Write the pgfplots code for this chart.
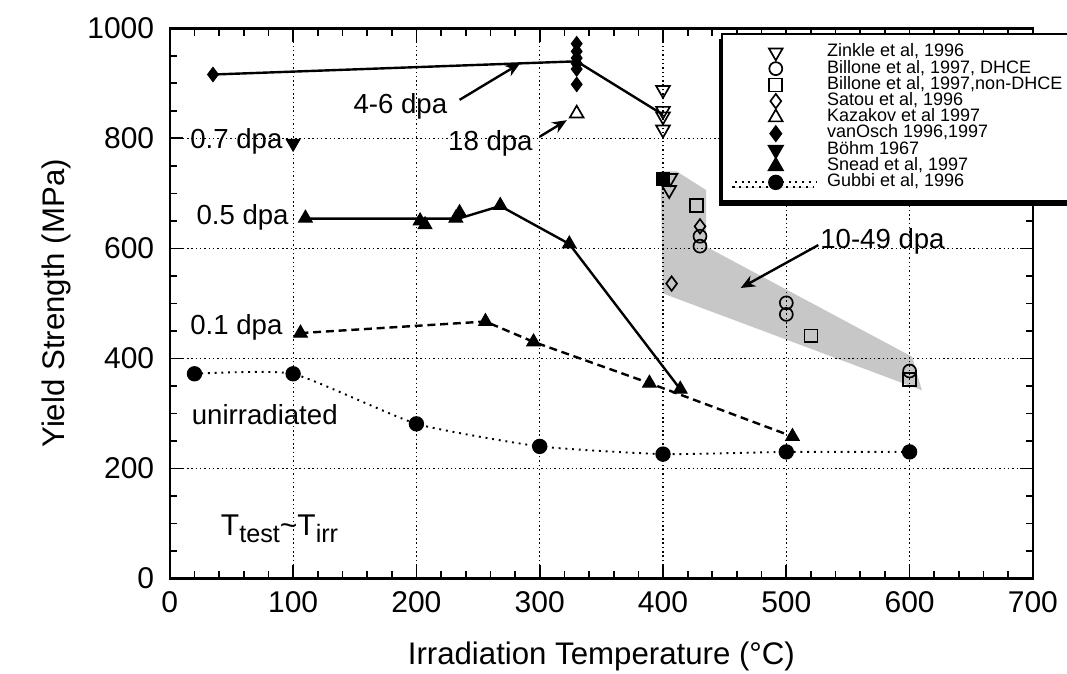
\documentclass[border=0pt]{standalone}
\usepackage{fontspec}
\setmainfont{Liberation Sans}
\setsansfont{Liberation Sans}
\usepackage{pgfplots}
\pgfplotsset{compat=1.18}
\usetikzlibrary{arrows.meta, shadows}

\pgfplotsset{
  legend image code/.code={\draw[mark repeat=2,mark phase=2,#1]
    plot coordinates {(0pt,0pt) (17pt,0pt) (34pt,0pt)};},
}

\begin{document}
\begin{tikzpicture}
\useasboundingbox (-70.75pt,-39.5pt) rectangle (373.8pt,241pt);
\begin{axis}[
  scale only axis, width=359.6pt, height=229.2pt,
  xmin=0, xmax=700, ymin=0, ymax=1000,
  xtick={0,100,...,700}, ytick={0,200,...,1000},
  minor x tick num=4, minor y tick num=3,
  tick align=inside, tick pos=both,
  major tick length=5.5pt, minor tick length=3pt,
  every tick/.style={black, line width=0.7pt},
  axis line style={line width=1pt},
  grid=major,
  grid style={black, line width=0.45pt, dash pattern=on 0.6pt off 1.2pt},
  /pgf/number format/assume math mode=true,
  /pgf/number format/1000 sep={},
  tick label style={font=\fontsize{12.5}{14}\selectfont},
  yticklabel style={xshift=-3pt},
  xticklabel style={yshift=-2pt},
  xlabel={Irradiation Temperature (°C)},
  ylabel={Yield Strength (MPa)},
  label style={font=\fontsize{13}{15}\selectfont},
  xlabel style={yshift=-5pt},
  legend cell align=left,
  legend style={at={(rel axis cs:0.6387,0.9915)}, anchor=north west,
    draw=black, line width=0.8pt, fill=white,
    font=\fontsize{7.5}{7.5}\selectfont,
    inner xsep=5pt, inner ysep=4.3pt, row sep=0pt, column sep=2.5pt,
    nodes={inner xsep=1.5pt, inner ysep=0pt, text height=5.2pt, text depth=1.57pt},
    general shadow={fill=black, shadow xshift=-1.2pt, shadow yshift=-2pt}},
]

% shaded band, 10-49 dpa
\addplot[draw=none, fill=black, fill opacity=0.22, forget plot] coordinates {
  (398,740) (411,740) (435,706) (435,603) (602,403) (610,342) (400,518)} -- cycle;

% lines
\addplot[black, line width=1pt, forget plot] coordinates {
  (35,916) (330,940) (400,843)};
\addplot[black, line width=1pt, forget plot] coordinates {
  (110,654) (234,654) (268,677) (324,608) (414,344)};
\addplot[black, line width=1pt, dash pattern=on 3.3pt off 2pt, forget plot] coordinates {
  (106,446) (256,467) (295,430) (389,355) (505,258)};

% extra filled square at 400
\addplot[only marks, mark=square*, mark size=2.7pt, black, forget plot] coordinates {(400,726)};

% Zinkle
\addplot[only marks, mark=triangle, mark size=3.3pt, line width=0.7pt,
  mark options={rotate=180, fill=white}] coordinates {
  (400,888) (400,850) (400,840) (400,816) (406,728) (405,706)};
\addlegendentry{Zinkle et al, 1996}
% Billone DHCE
\addplot[only marks, mark=o, mark size=2.7pt, line width=0.7pt,
  mark options={fill=white}] coordinates {
  (430,622) (430,604) (500,501) (500,480) (600,377)};
\addlegendentry{Billone et al, 1997, DHCE}
% Billone non-DHCE
\addplot[only marks, mark=square, mark size=2.7pt, line width=0.7pt,
  mark options={fill=white}] coordinates {
  (427,678) (520,441) (600,362)};
\addlegendentry{Billone et al, 1997,non-DHCE}
% Satou
\addplot[only marks, mark=diamond, mark size=3pt, line width=0.7pt,
  mark options={fill=white}] coordinates {
  (430,640) (407,536)};
\addlegendentry{Satou et al, 1996}
% Kazakov
\addplot[only marks, mark=triangle, mark size=3.3pt, line width=0.7pt,
  mark options={fill=white}] coordinates {(330,845)};
\addlegendentry{Kazakov et al 1997}
% vanOsch
\addplot[only marks, mark=diamond*, mark size=3pt, black] coordinates {
  (35,916) (330,972) (330,958) (330,946) (330,936) (330,926) (330,898)};
\addlegendentry{vanOsch 1996,1997}
% Bohm
\addplot[only marks, mark=triangle*, mark size=3.3pt, black,
  mark options={rotate=180}] coordinates {(100,791)};
\addlegendentry{Böhm 1967}
% Snead
\addplot[only marks, mark=triangle*, mark size=3.3pt, black] coordinates {
  (110,655) (203,650) (207,643) (232,655) (235,665) (268,678) (324,608) (414,344)
  (106,446) (256,467) (295,430) (389,355) (505,258)};
\addlegendentry{Snead et al, 1997}
% Gubbi
\addplot[black, smooth, tension=0.3, line width=0.8pt, dash pattern=on 0.8pt off 2pt,
  mark=*, mark size=2.8pt, mark options={solid}] coordinates {
  (20,372) (100,372) (200,281) (300,240) (400,226) (500,230) (600,230)};
\addlegendentry{Gubbi et al, 1996}

% annotations
\begin{scope}[font=\fontsize{11.5}{13}\selectfont]
\node at (axis cs:187,858) {4-6 dpa};
\node at (axis cs:260,791) {18 dpa};
\node at (axis cs:54,794) {0.7 dpa};
\node at (axis cs:59,657) {0.5 dpa};
\node at (axis cs:54,457) {0.1 dpa};
\node at (axis cs:77,297) {unirradiated};
\node at (axis cs:578,612) {10-49 dpa};
\node at (axis cs:89,91) {\fontsize{12.5}{13}\selectfont T\raisebox{-0.45ex}{\fontsize{10.5}{10}\selectfont test}\textasciitilde T\raisebox{-0.45ex}{\fontsize{10.5}{10}\selectfont irr}};
\end{scope}
\draw[-{Stealth[length=6pt,width=5pt]}, line width=1pt] (axis cs:235,870) -- (axis cs:284,936);
\draw[-{Stealth[length=6pt,width=5pt]}, line width=1pt] (axis cs:300,803) -- (axis cs:322,833);
\draw[-{Stealth[length=6pt,width=5pt]}, line width=1pt] (axis cs:526,606) -- (axis cs:463,528);
\end{axis}
\end{tikzpicture}
\end{document}
